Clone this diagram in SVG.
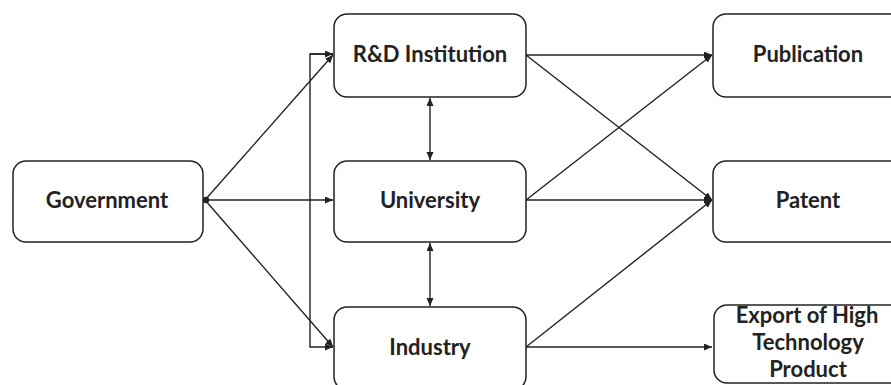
<svg xmlns="http://www.w3.org/2000/svg" width="891" height="385" viewBox="0 0 891 385">
<defs>
<style>
.box{fill:#fff;stroke:#222;stroke-width:1.5}
.lbl{font-family:Lato,"Liberation Sans",sans-serif;font-weight:bold;font-size:22px;fill:#222;text-anchor:middle}
.c{fill:none;stroke:#222;stroke-width:1.4}
</style>
<marker id="ah" markerUnits="userSpaceOnUse" markerWidth="9" markerHeight="8" refX="8" refY="3.5" orient="auto-start-reverse">
<path d="M0,0 L8,3.5 L0,7 z" fill="#222"/>
</marker>
</defs>
<rect width="891" height="385" fill="#fff"/>
<g id="connectors">
<path class="c" d="M205,200 L333,55" marker-end="url(#ah)"/>
<path class="c" d="M205,200 L333,200" marker-end="url(#ah)"/>
<path class="c" d="M205,200 L333,347" marker-end="url(#ah)"/>
<path class="c" d="M333,54 L310,54 L310,347 L333,347" marker-end="url(#ah)"/>
<path class="c" d="M310,54 L333,54" marker-end="url(#ah)"/>
<circle cx="206" cy="200" r="3.2" fill="#222"/>
<path class="c" d="M430,98 L430,160" marker-start="url(#ah)" marker-end="url(#ah)"/>
<path class="c" d="M430,243 L430,306" marker-start="url(#ah)" marker-end="url(#ah)"/>
<path class="c" d="M526,55 L712,55" marker-end="url(#ah)"/>
<path class="c" d="M526,55 L712,200" marker-end="url(#ah)"/>
<path class="c" d="M526,200 L712,55" marker-end="url(#ah)"/>
<path class="c" d="M526,200 L712,200" marker-end="url(#ah)"/>
<path class="c" d="M526,347 L712,200" marker-end="url(#ah)"/>
<path class="c" d="M526,347 L712,347" marker-end="url(#ah)"/>
</g>
<g id="government"><rect class="box" x="13" y="161" width="190" height="81" rx="13"/><text class="lbl" x="107" y="208">Government</text></g>
<g id="rd"><rect class="box" x="334" y="14" width="192" height="83" rx="13"/><text class="lbl" x="430" y="62">R&amp;D Institution</text></g>
<g id="university"><rect class="box" x="334" y="161" width="192" height="81" rx="13"/><text class="lbl" x="430" y="208">University</text></g>
<g id="industry"><rect class="box" x="334" y="307" width="192" height="83" rx="13"/><text class="lbl" x="430" y="355">Industry</text></g>
<g id="publication"><rect class="box" x="713" y="14" width="192" height="83" rx="13"/><text class="lbl" x="808" y="62">Publication</text></g>
<g id="patent"><rect class="box" x="713" y="161" width="192" height="81" rx="13"/><text class="lbl" x="808" y="208">Patent</text></g>
<g id="export"><rect class="box" x="714" y="305" width="192" height="78" rx="13"/><text class="lbl" x="807" y="323">Export of High</text><text class="lbl" x="808" y="350">Technology</text><text class="lbl" x="808" y="377">Product</text></g>
</svg>
